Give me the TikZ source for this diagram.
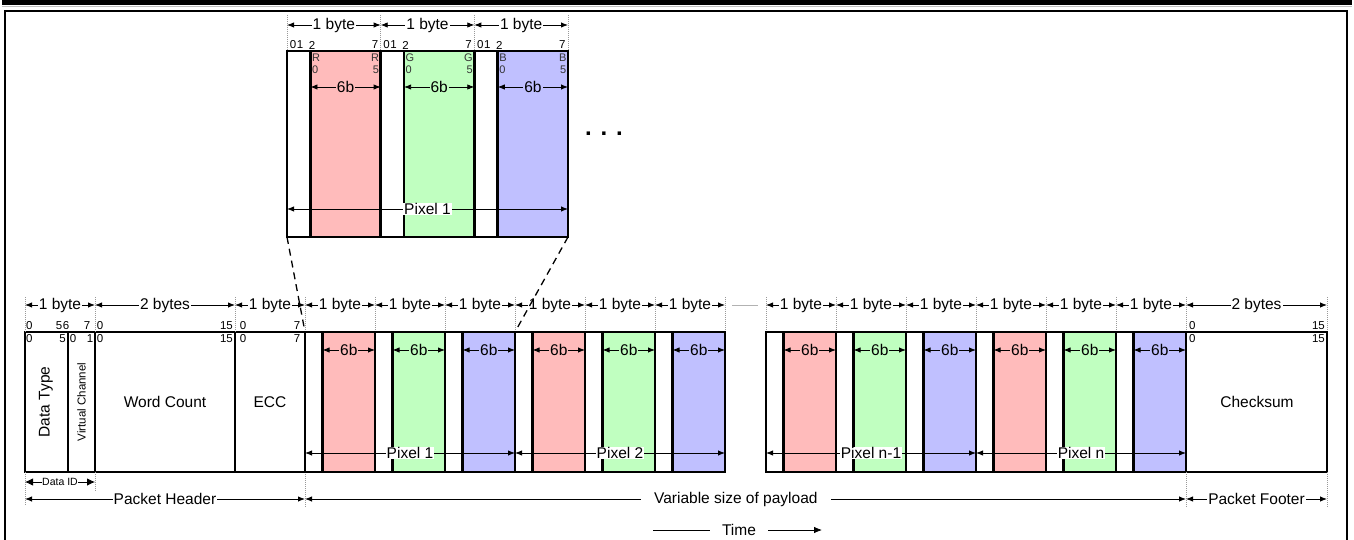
\documentclass[tikz,border=0pt]{standalone}
\usepackage{fontspec}
\setmainfont{Liberation Sans}
\usetikzlibrary{arrows.meta}
\definecolor{pinkc}{RGB}{255,187,187}
\definecolor{greenc}{RGB}{192,255,192}
\definecolor{bluec}{RGB}{192,192,255}
\begin{document}
\begin{tikzpicture}[x=1pt,y=-1pt,
  box/.style={line width=2.7pt},
  dim/.style={line width=0.8pt,{Latex[length=7pt,width=5.4pt]}-{Latex[length=7pt,width=5.4pt]}},
  bigdim/.style={line width=0.8pt,{Latex[length=8pt,width=7.5pt]}-{Latex[length=8pt,width=7.5pt]}},
  guide/.style={draw=gray!80,line width=0.5pt,dash pattern=on 1pt off 1pt},
  lbl/.style={font=\fontsize{15.5}{15.5}\selectfont,fill=white,inner xsep=1pt,inner ysep=0.5pt},
  bit/.style={font=\fontsize{11.5}{11.5}\selectfont,inner sep=0pt},
  bitc/.style={font=\fontsize{11}{11}\selectfont,inner sep=0pt,text=black!80},
  field/.style={font=\fontsize{15.5}{15.5}\selectfont,inner sep=0pt},
  zoomline/.style={line width=1.3pt,dash pattern=on 7pt off 5pt}]
\useasboundingbox (0,0) rectangle (1354,540);
% frame
\fill[black] (2,0) rectangle (1352,5.5);
\draw[gray!50,line width=0.8pt] (2,6.8) -- (1352,6.8);
\draw[line width=2.2pt] (5,541) -- (5,11) -- (1347,11) -- (1347,541);

% ---------------- zoomed pixel (top block) ----------------
\foreach \b/\c/\L in {287/pinkc/R,380.67/greenc/G,474.33/bluec/B}{
  \fill[\c] (\b+23.42,51) rectangle (\b+93.67,237);
  \draw[box] (\b,51) -- (\b,237);
  \draw[box] (\b+23.42,51) -- (\b+23.42,237);
  \draw[guide] (\b,15) -- (\b,51);
  \draw[dim] (\b,25) -- node[lbl]{1 byte} (\b+93.67,25);
  \draw[dim] (\b+23.42,87) -- node[lbl,fill=\c]{6b} (\b+93.67,87);
  \node[bit] at (\b+6,45) {0};
  \node[bit] at (\b+13,45) {1};
  \node[bit] at (\b+25,45) {2};
  \node[bit] at (\b+88,45) {7};
  \node[bitc,anchor=west] at (\b+24.8,58) {\L};
  \node[bitc,anchor=west] at (\b+24.8,69.5) {0};
  \node[bitc,anchor=east] at (\b+92.2,58) {\L};
  \node[bitc,anchor=east] at (\b+92.2,69.5) {5};
}
\draw[guide] (568,15) -- (568,51);
\draw[box] (287,51) rectangle (568,237);
\coordinate (zl) at (287,209);
\coordinate (zr) at (568,209);
\draw[dim] (zl) -- node[lbl] (zpix) {Pixel 1} (zr);
\node[font=\fontsize{24}{24}\selectfont\bfseries,inner sep=0pt] (dots) at (604,134) {. . .};

% ---------------- packet header ----------------
\draw[box] (25,332) rectangle (305,472);
\draw[box] (68,332) -- (68,472);
\draw[box] (95,332) -- (95,472);
\draw[box] (235,332) -- (235,472);
\foreach \x in {25,95,235}{\draw[guide] (\x,297) -- (\x,332);}
\draw[guide] (25,472) -- (25,506);
\draw[guide] (95,472) -- (95,491);
\draw[guide] (305,472) -- (305,507);
\draw[dim] (25,305) -- node[lbl]{1 byte} (95,305);
\draw[dim] (95,305) -- node[lbl]{2 bytes} (235,305);
\draw[dim] (235,305) -- node[lbl]{1 byte} (305,305);
% bit numbers
\node[bit,anchor=west] at (26,326) {0};
\node[bit] at (59,326) {5};
\node[bit] at (66,326) {6};
\node[bit] at (87,326) {7};
\node[bit] at (100,326) {0};
\node[bit,anchor=east] at (233,326) {15};
\node[bit] at (243,326) {0};
\node[bit] at (297,326) {7};
\node[bit,anchor=west] at (26,339) {0};
\node[bit,anchor=east] at (66,339) {5};
\node[bit] at (73,339) {0};
\node[bit] at (90,339) {1};
\node[bit] at (100,339) {0};
\node[bit,anchor=east] at (233,339) {15};
\node[bit] at (243,339) {0};
\node[bit] at (297,339) {7};
\node[field,rotate=90] (dt) at (46,402) {Data Type};
\node[font=\fontsize{11.5}{11.5}\selectfont,inner sep=0pt,rotate=90] (vc) at (81.5,402) {Virtual Channel};
\node[field] (wc) at (165,402) {Word Count};
\node[field] (ecc) at (270,402) {ECC};
\draw[bigdim] (25,482) -- node[font=\fontsize{10.5}{10.5}\selectfont,fill=white,inner sep=0.6pt]{Data ID} (95,482);
\draw[dim] (25,499) -- node[lbl]{Packet Header} (305,499);

% ---------------- payload ----------------
\foreach \b/\c in {305/pinkc,375/greenc,445/bluec,515/pinkc,585/greenc,655/bluec,766/pinkc,836/greenc,906/bluec,976/pinkc,1046/greenc,1116/bluec}{
  \fill[\c] (\b+17.5,332) rectangle (\b+70,472);
  \draw[box] (\b,332) -- (\b,472);
  \draw[box] (\b+17.5,332) -- (\b+17.5,472);
  \draw[guide] (\b,297) -- (\b,332);
  \draw[dim] (\b,305) -- node[lbl]{1 byte} (\b+70,305);
  \draw[dim] (\b+17.5,350) -- node[lbl,fill=\c]{6b} (\b+70,350);
}
\foreach \x in {725,1186,1327}{\draw[guide] (\x,297) -- (\x,332);}
\draw[box] (305,332) rectangle (725,472);
\draw[box] (766,332) rectangle (1186,472);
\draw[gray!60,line width=0.6pt] (732,305) -- (758,305);
\draw[dim] (305,453) -- node[lbl]{Pixel 1} (515,453);
\draw[dim] (515,453) -- node[lbl]{Pixel 2} (725,453);
\draw[dim] (766,453) -- node[lbl]{Pixel n-1} (976,453);
\draw[dim] (976,453) -- node[lbl]{Pixel n} (1186,453);

% ---------------- checksum ----------------
\draw[box] (1186,332) rectangle (1327,472);
\draw[dim] (1186,305) -- node[lbl]{2 bytes} (1327,305);
\node[bit,anchor=west] at (1189,326) {0};
\node[bit,anchor=east] at (1325,326) {15};
\node[bit,anchor=west] at (1189,339) {0};
\node[bit,anchor=east] at (1325,339) {15};
\node[field] (cs) at (1257,402) {Checksum};
\draw[guide] (1186,472) -- (1186,507);
\draw[guide] (1327,472) -- (1327,507);

% ---------------- bottom labels ----------------
\draw[dim] (305,499) -- node[lbl,pos=0.489,inner xsep=13pt]{Variable size of payload} (1186,499);
\draw[dim] (1186,499) -- node[lbl]{Packet Footer} (1327,499);
\coordinate (t1) at (653,530);
\coordinate (t2) at (822,530);
\draw[line width=0.8pt,-{Latex[length=8pt,width=6.5pt]}] (t1) -- node[lbl,pos=0.509,inner xsep=12.5pt]{Time} (t2);

% ---------------- zoom lines ----------------
\draw[zoomline] (287,237) -- (305,332);
\draw[zoomline] (568,237) -- (515,332);
\end{tikzpicture}
\end{document}
